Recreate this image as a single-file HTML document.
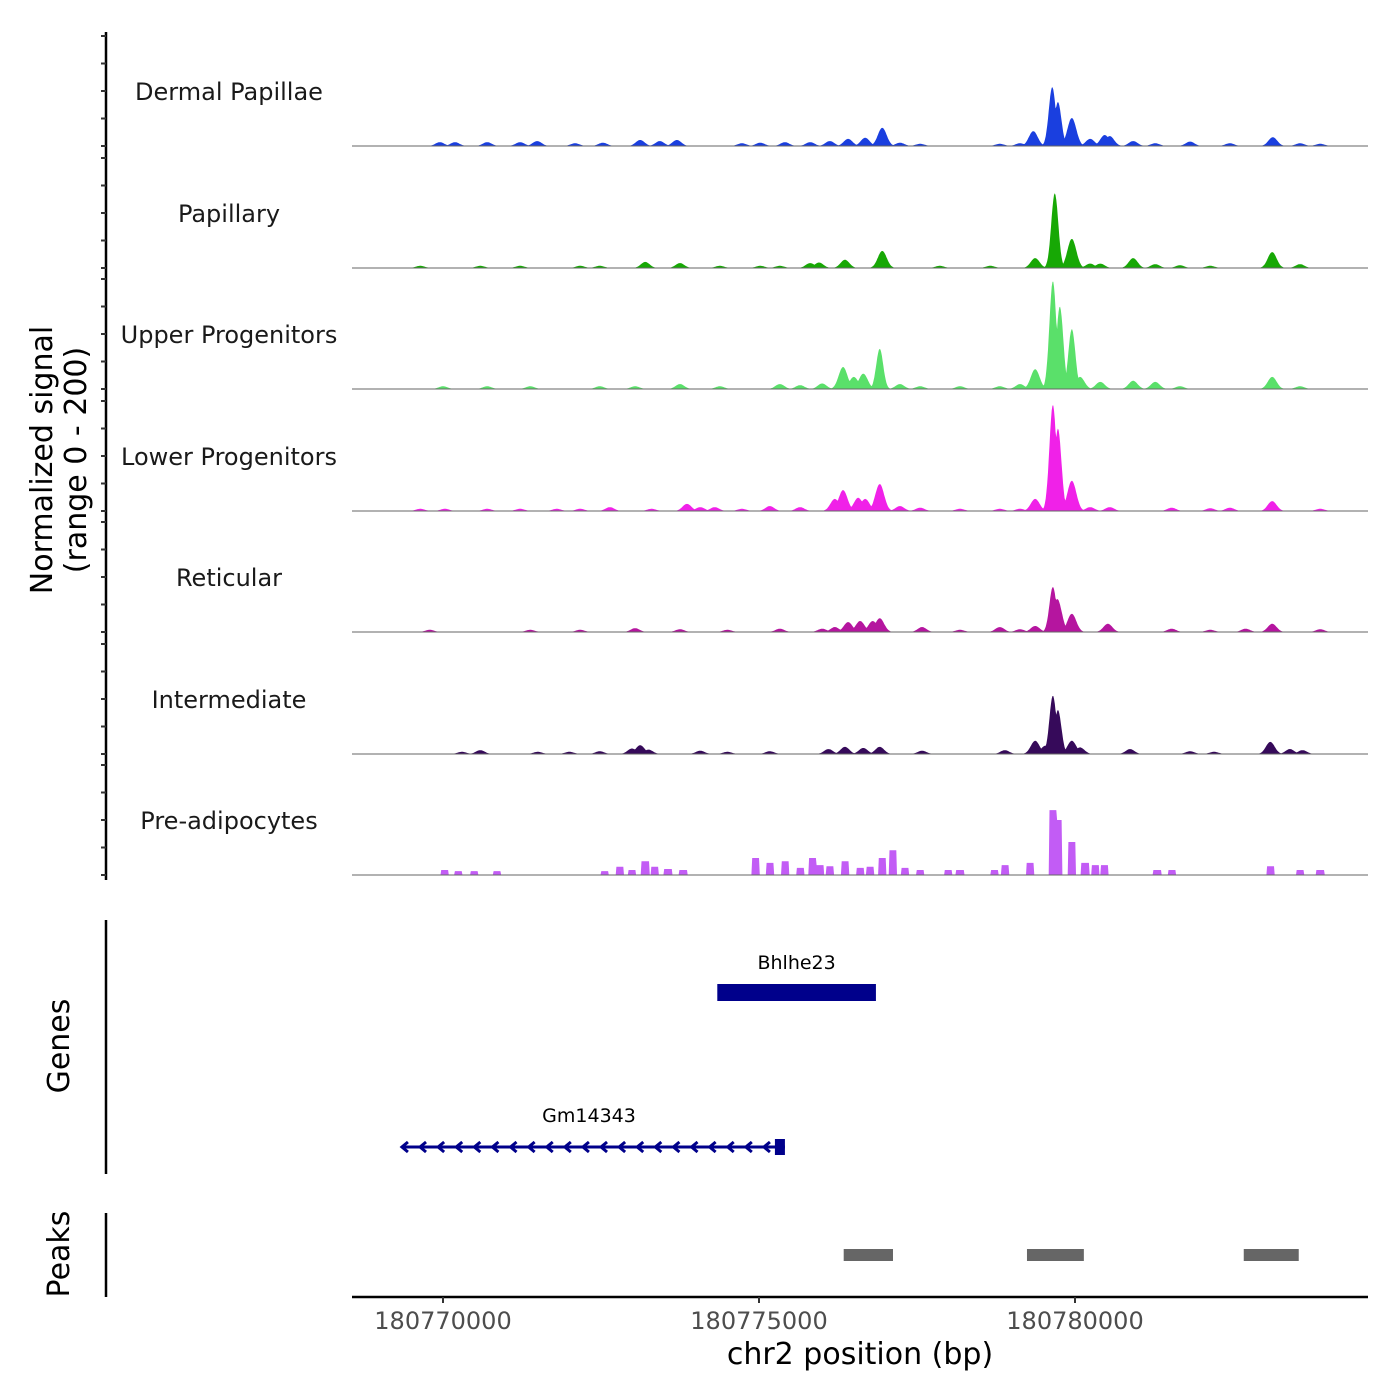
<!DOCTYPE html>
<html><head><meta charset="utf-8"><style>
body{margin:0;background:#fff}
svg{display:block}
text{font-family:"DejaVu Sans","Liberation Sans",sans-serif}
</style></head><body>
<svg id="chart" width="1400" height="1400" viewBox="0 0 1400 1400" xmlns="http://www.w3.org/2000/svg"></svg>
<script>
// ---- data ----
const trackNames = ["Dermal Papillae","Papillary","Upper Progenitors","Lower Progenitors","Reticular","Intermediate","Pre-adipocytes"];
const trackColors = ["#1a3fdf","#17a805","#5ae06a","#f021e8","#b5159f","#360a5a","#c25cf5"];
// peak positions in kb offset from 180770000 and heights (0-200 normalized)
const dpPos = [-0.05,0.19,0.70,1.22,1.49,2.09,2.53,3.12,3.43,3.70,4.73,5.02,5.41,5.81,6.12,6.41,6.68,6.95,7.23,7.55,8.81,9.13,9.34,9.64,9.73,9.95,10.24,10.47,10.55,10.92,11.27,11.82,12.45,13.13,13.56,13.88];
const dpVal = [7,7,7,7,9,5,6,11,9,11,5,6,7,7,9,13,15,33,6,4,4,5,27,107,80,51,13,20,18,9,5,8,5,16,5,4];
const paPos = [9.68,9.95,9.37,6.95,6.36,5.95,10.92,13.12,3.20,3.75,11.27,13.56,5.81,11.66,-0.36,0.59,1.22,2.17,2.48,4.38,5.02,5.33,7.86,8.66,12.14,10.40,10.24];
const paVal = [136,53,18,31,15,10,18,29,11,9,7,7,9,5,4,4,4,4,4,4,4,4,4,4,4,8,8];
const upPos = [9.65,9.76,9.95,9.37,6.91,6.33,6.65,6.50,10.08,10.92,11.27,13.12,3.75,10.40,7.23,5.33,5.65,6.0,0.0,0.70,1.38,2.48,3.04,4.38,7.55,8.18,8.81,11.66,13.56,9.13];
const upVal = [196,150,109,36,73,40,28,22,22,15,13,22,9,13,9,9,7,10,5,5,5,5,5,5,5,5,5,5,5,9];
const loPos = [9.65,9.73,9.95,9.37,6.91,6.33,6.20,6.57,6.68,3.86,13.12,2.64,4.07,4.30,5.17,5.65,7.23,7.55,10.55,10.24,11.53,12.14,12.45,-0.36,0.03,0.70,1.22,1.8,2.17,3.30,4.73,8.18,8.81,9.13,13.88];
const loVal = [193,150,55,22,49,38,22,24,22,13,18,7,7,7,9,7,9,6,7,7,6,5,6,4,4,4,4,4,4,4,4,4,4,4,4];
const rePos = [9.65,9.72,9.95,9.37,6.91,6.80,6.41,6.60,6.20,6.0,5.33,10.52,13.12,3.04,7.58,8.81,9.13,12.7,11.53,2.17,-0.21,1.38,3.75,4.50,8.18,12.14,13.88];
const reVal = [82,60,33,11,25,20,18,20,9,6,6,15,15,7,9,9,5,6,6,4,4,4,5,4,4,4,5];
const inPos = [9.65,9.73,9.95,9.37,9.53,10.08,6.91,6.36,6.65,6.1,3.12,2.99,3.25,13.09,13.40,13.6,0.59,0.3,2.48,4.07,4.50,5.17,7.58,8.89,10.87,11.82,1.5,2.0,12.2];
const inVal = [106,80,24,24,15,12,13,13,11,9,16,10,8,22,9,7,7,4,5,6,4,5,6,7,9,5,4,4,4];
const prPos = [0.03,0.24,0.49,0.85,2.56,2.80,2.99,3.20,3.35,3.56,3.80,4.95,5.17,5.41,5.65,5.85,5.97,6.12,6.36,6.60,6.76,6.95,7.12,7.31,7.55,7.99,8.18,8.73,8.89,9.29,9.65,9.73,9.95,10.16,10.32,10.47,11.30,11.53,13.09,13.56,13.88];
const prVal = [9,7,7,7,7,15,9,25,15,11,9,31,22,25,13,31,18,16,25,13,15,31,45,13,9,9,9,9,18,22,118,100,60,22,18,18,9,9,16,9,9];
const trackPos = [dpPos,paPos,upPos,loPos,rePos,inPos,prPos];
const trackVal = [dpVal,paVal,upVal,loVal,reVal,inVal,prVal];
const xTicks = [180770000,180775000,180780000];
const geneNames = ["Bhlhe23","Gm14343"];
const geneStart = [180774340,180769350];
const geneEnd = [180776850,180775410];
const peakStart = [180776340,180779240,180782670];
const peakEnd = [180777120,180780140,180783540];

// ---- scales ----
const X0=352,X1=1368,D0=180768560,D1=180784636;
const x = bp => X0+(bp-D0)/(D1-D0)*(X1-X0);
const baselines=[146,268,389,511,632,754,875];
const yv = (v,b) => b - v/200*110;
const svg=document.getElementById('chart');
const NS="http://www.w3.org/2000/svg";
function mk(tag,attrs,parent){const e=document.createElementNS(NS,tag);for(const k in attrs)e.setAttribute(k,attrs[k]);(parent||svg).appendChild(e);return e;}

// left axis
let ax=mk('line',{x1:106,y1:32,x2:106,y2:880,stroke:'#000','stroke-width':2.5});


baselines.forEach((b,ti)=>{
  [0,50,100,150,200].forEach(v=>{
    const t=mk('line',{x1:101,x2:106,y1:yv(v,b),y2:yv(v,b),stroke:'#333','stroke-width':2});
    
    
  });
});
let yt=mk('text',{transform:'translate(52,460) rotate(-90)','text-anchor':'middle','font-size':30,fill:'#000'});


mk('tspan',{x:0,dy:0},yt).textContent='Normalized signal';
mk('tspan',{x:0,dy:34},yt).textContent='(range 0 - 200)';

// tracks
trackNames.forEach((name,ti)=>{
  const b=baselines[ti];
  const g=mk('g',{});
  
  
  const pos=trackPos[ti],val=trackVal[ti];
  const flat=(ti===6);
  let d='M'+X0+','+b;
  for(let bp=180769000;bp<=180784000;bp+=12){
    let v=0;
    for(let i=0;i<pos.length;i++){
      const c=180770000+pos[i]*1000, dx=bp-c;
      let h;
      if(flat){h=Math.abs(dx)<=60?val[i]:0;}
      else{const s=val[i]>60?55:70;h=val[i]*Math.exp(-dx*dx/(2*s*s));}
      if(h>v)v=h;
    }
    d+=' L'+x(bp).toFixed(1)+','+yv(v,b).toFixed(1);
  }
  d+=' L'+x(180784000)+','+b+' Z';
  const p=mk('path',{d:d,fill:trackColors[ti]},g);
  
  
  const bl=mk('line',{x1:X0,x2:X1,y1:b,y2:b,stroke:'#666','stroke-width':1},g);
  
  
  const lab=mk('text',{x:229,y:b-46,'text-anchor':'middle','font-size':24,fill:'#1a1a1a'},g);
  
  
  lab.textContent=name;
});

// genes panel
let ga=mk('line',{x1:106,y1:920,x2:106,y2:1174,stroke:'#000','stroke-width':2.5});


let gt=mk('text',{transform:'translate(69,1046) rotate(-90)','text-anchor':'middle','font-size':30,fill:'#000'});


gt.textContent='Genes';
const navy='#00008b';
{
  const g=mk('g',{});
  
  
  const x0=x(geneStart[0]),x1=x(geneEnd[0]);
  mk('rect',{x:x0,y:984,width:x1-x0,height:17,fill:navy},g);
  const t=mk('text',{x:(x0+x1)/2,y:969,'text-anchor':'middle','font-size':19,fill:'#000'},g);
  
  
  t.textContent=geneNames[0];
}
{
  const g=mk('g',{});
  
  
  const x0=x(geneStart[1]),x1=x(geneEnd[1]);
  mk('line',{x1:x0,x2:x1,y1:1147,y2:1147,stroke:navy,'stroke-width':3},g);
  mk('rect',{x:x1-10,y:1139,width:10,height:16,fill:navy},g);
  for(let ax2=x0;ax2<x1-15;ax2+=18.1){
    mk('polyline',{points:(ax2+6)+',1142 '+ax2+',1147 '+(ax2+6)+',1152',fill:'none',stroke:navy,'stroke-width':3},g);
  }
  const t=mk('text',{x:589,y:1122,'text-anchor':'middle','font-size':19,fill:'#000'},g);
  
  
  t.textContent=geneNames[1];
}

// peaks panel
let pa=mk('line',{x1:106,y1:1213,x2:106,y2:1297,stroke:'#000','stroke-width':2.5});


let pt=mk('text',{transform:'translate(69,1254) rotate(-90)','text-anchor':'middle','font-size':30,fill:'#000'});


pt.textContent='Peaks';
peakStart.forEach((s,i)=>{
  const r=mk('rect',{x:x(s),y:1249,width:x(peakEnd[i])-x(s),height:12,fill:'#666'});
  
  
});

// x axis
let xa=mk('line',{x1:X0,x2:X1,y1:1297,y2:1297,stroke:'#000','stroke-width':2.5});


xTicks.forEach(t=>{
  const tk=mk('line',{x1:x(t),x2:x(t),y1:1297,y2:1303,stroke:'#333','stroke-width':2});
  
  
  const l=mk('text',{x:x(t),y:1329,'text-anchor':'middle','font-size':24,fill:'#4d4d4d'});
  
  
  l.textContent=String(t);
});
let xt=mk('text',{x:860,y:1364,'text-anchor':'middle','font-size':30,fill:'#000'});


xt.textContent='chr2 position (bp)';
</script>
</body></html>
